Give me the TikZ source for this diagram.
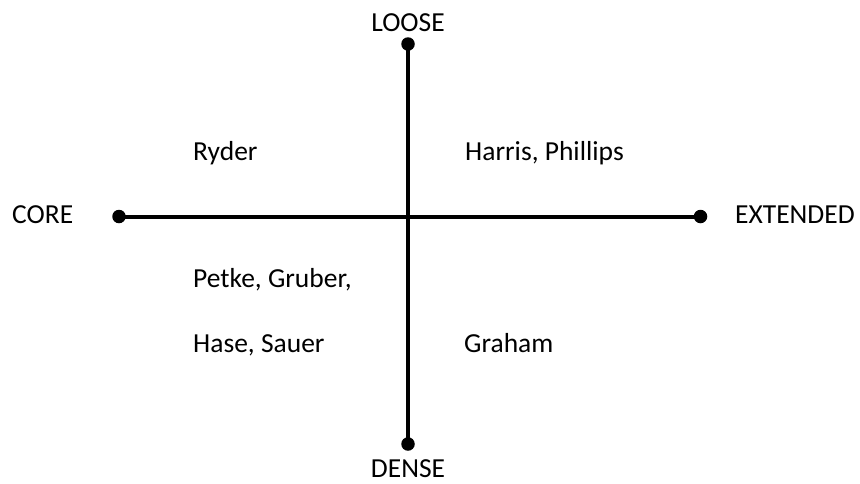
\documentclass[tikz,border=0pt]{standalone}
\usepackage{fontspec}
\setmainfont{Carlito}
\usetikzlibrary{positioning}
\tikzset{
  enddot/.style   = {circle, fill=black, draw=none,
                     minimum size=13.5pt, inner sep=0pt},
  axis/.style     = {line width=4pt},
  axislabel/.style= {inner sep=0pt, anchor=base west,
                     font=\fontsize{27.5}{30}\selectfont},
  entry/.style    = {inner sep=0pt, anchor=base west,
                     font=\fontsize{27.5}{30}\selectfont}
}

\begin{document}
\begin{tikzpicture}[x=1pt, y=-1pt]

  \useasboundingbox (0,0) rectangle (860,483);

  %%──────────────────────────────────────────────────────────────────────
  %%  AXIS END POINTS
  %%──────────────────────────────────────────────────────────────────────
  \node[enddot] (core)  at (119,216.5) {};
  \node[enddot] (ext)   at (700.5,216.5) {};
  \node[enddot] (loose) at (408,44) {};
  \node[enddot] (dense) at (408,444) {};

  %%──────────────────────────────────────────────────────────────────────
  %%  AXES
  %%──────────────────────────────────────────────────────────────────────
  \draw[axis] (core.center)  -- (ext.center);
  \draw[axis] (loose.center) -- (dense.center);

  %%──────────────────────────────────────────────────────────────────────
  %%  AXIS LABELS
  %%──────────────────────────────────────────────────────────────────────
  \node[axislabel, anchor=base] (lLoose) at (408,31)  {LOOSE};
  \node[axislabel, anchor=base] (lDense) at (408,477) {DENSE};
  \node[axislabel] (lCore) at (12,223)  {CORE};
  \node[axislabel] (lExt)  at (735,223) {EXTENDED};

  %%──────────────────────────────────────────────────────────────────────
  %%  QUADRANT ENTRIES
  %%──────────────────────────────────────────────────────────────────────
  \node[entry] (ryder)  at (193,160) {Ryder};
  \node[entry] (harris) at (465,160) {Harris, Phillips};
  \node[entry] (petke)  at (193,287) {Petke, Gruber,};
  \node[entry] (hase)   at (193,352) {Hase, Sauer};
  \node[entry] (graham) at (464,352) {Graham};

\end{tikzpicture}
\end{document}
